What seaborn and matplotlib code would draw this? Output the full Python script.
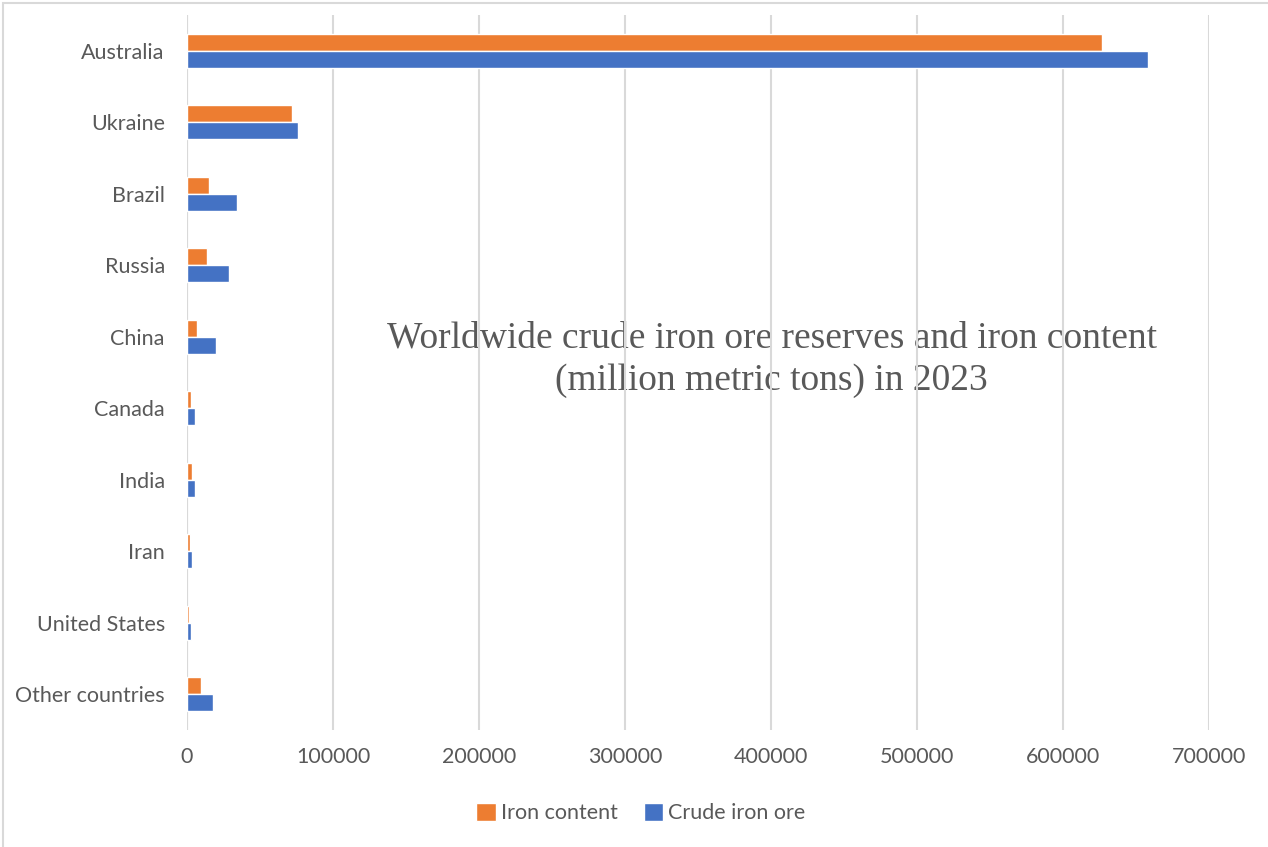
import matplotlib
matplotlib.use("Agg")
import matplotlib.pyplot as plt
import seaborn as sns
import pandas as pd
from matplotlib.patches import Rectangle

countries = ["Australia", "Ukraine", "Brazil", "Russia", "China", "Canada",
             "India", "Iran", "United States", "Other countries"]
iron_content = [627000, 72000, 15000, 14000, 6800, 2500, 3500, 1800, 1300, 9500]
crude_ore = [658000, 76000, 34000, 29000, 20000, 5800, 5500, 3300, 3000, 18000]
series_names = ["Iron content", "Crude iron ore"]
x_ticks = [0, 100000, 200000, 300000, 400000, 500000, 600000, 700000]
title = "Worldwide crude iron ore reserves and iron content\n(million metric tons) in 2023"

df = pd.DataFrame({
    "Country": countries * 2,
    "Value": iron_content + crude_ore,
    "Series": [series_names[0]] * len(countries) + [series_names[1]] * len(countries),
})

sns.set_theme(style="white")
plt.rcParams["font.family"] = ["Lato", "DejaVu Sans"]

fig = plt.figure(figsize=(12.68, 8.47), dpi=100)
ax = fig.add_axes([187 / 1268, 1 - 730 / 847, (1209 - 187) / 1268, (730 - 15) / 847])

palette = {"Iron content": "#ED7D31", "Crude iron ore": "#4472C4"}
sns.barplot(data=df, x="Value", y="Country", hue="Series", hue_order=series_names,
            order=countries, palette=palette, orient="h", width=0.476, gap=0,
            dodge=True, saturation=1, ax=ax, legend=True, zorder=2)

ax.set_xlim(0, 700000)
ax.set_ylim(9.5, -0.5)
ax.set_xticks(x_ticks)
ax.set_xticklabels([str(t) for t in x_ticks])
ax.xaxis.grid(True, color="#d9d9d9", linewidth=1.5)
ax.yaxis.grid(False)
ax.set_axisbelow(True)
for s in ax.spines.values():
    s.set_visible(False)
ax.axvline(0, color="#d9d9d9", linewidth=1.5, zorder=0.5)
ax.set_xlabel("")
ax.set_ylabel("")
ax.tick_params(axis="x", colors="#595959", labelsize=15.5, length=0, pad=12)
ax.tick_params(axis="y", colors="#595959", labelsize=15.5, length=0, pad=16)
for lbl in ax.get_xticklabels() + ax.get_yticklabels():
    lbl.set_color("#595959")

ax.text(0.572, 0.518, title, transform=ax.transAxes, ha="center", va="center",
        multialignment="center", fontsize=27, color="#595959", zorder=0.1,
        family=["Liberation Serif", "DejaVu Serif"], linespacing=1.32)

leg = ax.legend(loc="center", bbox_to_anchor=(641 / 1268, 1 - 813 / 847),
                bbox_transform=fig.transFigure, ncol=2, frameon=False,
                fontsize=15.5, handlelength=0.9, handleheight=0.9, handletextpad=0.25,
                columnspacing=1.2)
for t in leg.get_texts():
    t.set_color("#595959")

fig.patches.append(Rectangle((3 / 1268, -0.01), 1.2, 1 - 3 / 847 + 0.01,
                             transform=fig.transFigure, fill=False,
                             edgecolor="#d9d9d9", linewidth=1.5))

fig.savefig("out.png", dpi=100, facecolor="white")
